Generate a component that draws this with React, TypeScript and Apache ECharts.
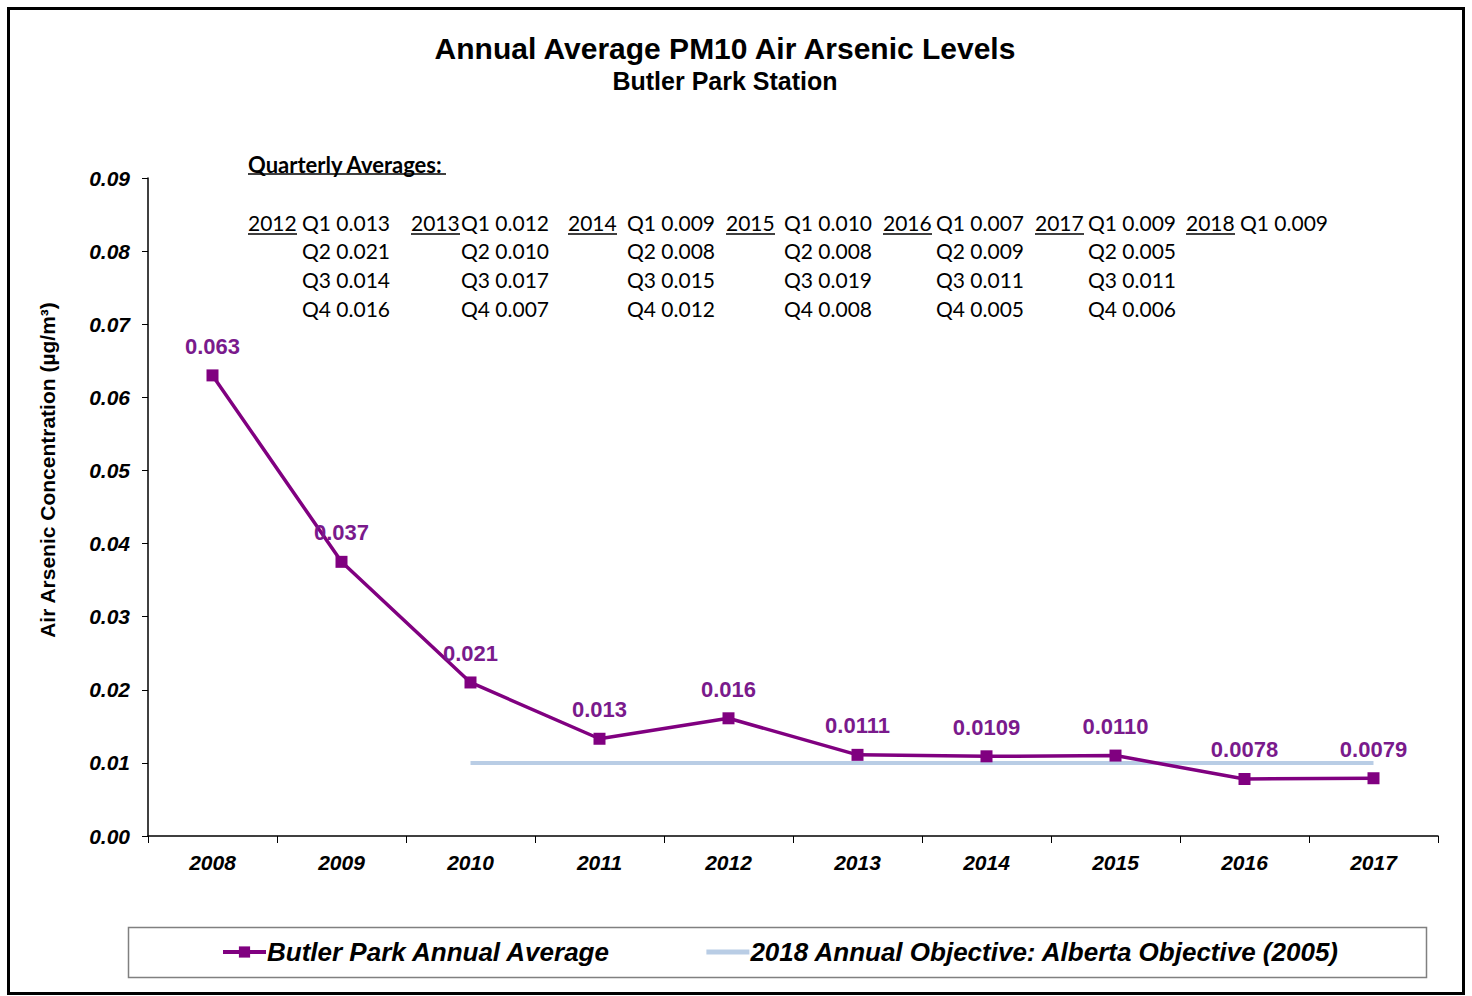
import React, { useEffect, useRef } from "react";
import * as echarts from "echarts";

const years = ["2008", "2009", "2010", "2011", "2012", "2013", "2014", "2015", "2016", "2017"];
const annualAvg = [0.063, 0.0375, 0.021, 0.0133, 0.0161, 0.0111, 0.0109, 0.011, 0.0078, 0.0079];
const annualLabels = ["0.063", "0.037", "0.021", "0.013", "0.016", "0.0111", "0.0109", "0.0110", "0.0078", "0.0079"];
const objective = [null, null, 0.01, 0.01, 0.01, 0.01, 0.01, 0.01, 0.01, 0.01];

const seriesNames = ["Butler Park Annual Average", "2018 Annual Objective: Alberta Objective (2005)"];
const titleText = "Annual Average PM10 Air Arsenic Levels";
const subtitleText = "Butler Park Station";
const yAxisName = "Air Arsenic Concentration (µg/m³)";

const quarterHeading = "Quarterly Averages:";
const quarterYears = ["2012", "2013", "2014", "2015", "2016", "2017", "2018"];
const quarterNames = ["Q1", "Q2", "Q3", "Q4"];
const quarterValues = [
  ["0.013", "0.021", "0.014", "0.016"],
  ["0.012", "0.010", "0.017", "0.007"],
  ["0.009", "0.008", "0.015", "0.012"],
  ["0.010", "0.008", "0.019", "0.008"],
  ["0.007", "0.009", "0.011", "0.005"],
  ["0.009", "0.005", "0.011", "0.006"],
  ["0.009"],
];

// layout only
const yearColX = [248, 411, 568, 726, 883, 1035, 1186];
const qColX = [302, 461, 627, 784, 936, 1088, 1240];
const rowY = [222, 250, 279, 308];

const PURPLE = "#800080";
const LABEL_PURPLE = "#7a1a8c";
const OBJ_BLUE = "#b9cde5";
const AX_FONT = "'Liberation Sans', Arial, sans-serif";
const Q_FONT = "Lato, 'Open Sans', sans-serif";

export default function App() {
  const ref = useRef<HTMLDivElement>(null);
  useEffect(() => {
    if (!ref.current) return;
    const chart = echarts.init(ref.current, null, { renderer: "svg" });

    const graphics: any[] = [
      {
        type: "rect",
        shape: { x: 8.5, y: 8.5, width: 1455, height: 985 },
        style: { fill: "none", stroke: "#000", lineWidth: 3 },
        silent: true,
      },
      {
        type: "text",
        x: 725,
        y: 48,
        style: { text: titleText, font: `bold 30px ${AX_FONT}`, fill: "#000", textAlign: "center", textVerticalAlign: "middle" },
      },
      {
        type: "text",
        x: 725,
        y: 81,
        style: { text: subtitleText, font: `bold 25px ${AX_FONT}`, fill: "#000", textAlign: "center", textVerticalAlign: "middle" },
      },
      {
        type: "text",
        x: 248,
        y: 164,
        style: { text: quarterHeading, font: `bold 22px ${Q_FONT}`, fill: "#000", textAlign: "left", textVerticalAlign: "middle" },
      },
      {
        type: "line",
        shape: { x1: 248, y1: 174, x2: 446, y2: 174 },
        style: { stroke: "#000", lineWidth: 1.5 },
      },
      {
        type: "rect",
        shape: { x: 128.5, y: 927.5, width: 1298, height: 50 },
        style: { fill: "none", stroke: "#808080", lineWidth: 1.5 },
        silent: true,
      },
    ];

    quarterYears.forEach((yr, i) => {
      graphics.push({
        type: "text",
        x: yearColX[i],
        y: rowY[0],
        style: { text: yr, font: `21px ${Q_FONT}`, fill: "#000", textAlign: "left", textVerticalAlign: "middle" },
      });
      graphics.push({
        type: "line",
        shape: { x1: yearColX[i], y1: 234, x2: yearColX[i] + 49, y2: 234 },
        style: { stroke: "#000", lineWidth: 1.5 },
      });
      quarterValues[i].forEach((v, j) => {
        graphics.push({
          type: "text",
          x: qColX[i],
          y: rowY[j],
          style: {
            text: `${quarterNames[j]} ${v}`,
            font: `21px ${Q_FONT}`,
            fill: "#000",
            textAlign: "left",
            textVerticalAlign: "middle",
          },
        });
      });
    });

    chart.setOption({
      animation: false,
      backgroundColor: "#fff",
      grid: { left: 148, top: 178, width: 1290, height: 658, containLabel: false },
      legend: {
        left: 221,
        top: 939,
        padding: 0,
        itemWidth: 43,
        itemHeight: 14,
        itemGap: 93,
        textStyle: { fontFamily: AX_FONT, fontSize: 26, fontWeight: "bold", fontStyle: "italic", color: "#000", padding: [0, 0, 0, -4] },
        data: [
          { name: seriesNames[0], lineStyle: { width: 4 } },
          { name: seriesNames[1], itemStyle: { opacity: 0 }, lineStyle: { width: 5 } },
        ],
      },
      xAxis: {
        type: "category",
        data: years,
        boundaryGap: true,
        axisLine: { lineStyle: { color: "#000", width: 1.5 } },
        axisTick: { show: true, inside: false, length: 7, interval: 0, lineStyle: { color: "#000" } },
        axisLabel: {
          margin: 16,
          fontFamily: AX_FONT,
          fontSize: 21,
          fontWeight: "bold",
          fontStyle: "italic",
          color: "#000",
          interval: 0,
        },
        splitLine: { show: false },
      },
      yAxis: {
        type: "value",
        min: 0,
        max: 0.09,
        interval: 0.01,
        name: yAxisName,
        nameLocation: "middle",
        nameGap: 90,
        nameTextStyle: { fontFamily: AX_FONT, fontSize: 21, fontWeight: "bold", color: "#000", padding: [0, 0, 0, 74] },
        axisLine: { show: true, lineStyle: { color: "#000", width: 1.5 } },
        axisTick: { show: true, inside: false, length: 6, lineStyle: { color: "#000" } },
        axisLabel: {
          margin: 18,
          fontFamily: AX_FONT,
          fontSize: 21,
          fontWeight: "bold",
          fontStyle: "italic",
          color: "#000",
          formatter: (v: number) => v.toFixed(2),
        },
        splitLine: { show: false },
      },
      series: [
        {
          name: seriesNames[0],
          type: "line",
          data: annualAvg,
          z: 5,
          symbol: "rect",
          symbolSize: 12,
          lineStyle: { color: PURPLE, width: 3.5 },
          itemStyle: { color: PURPLE },
          label: {
            show: true,
            position: "top",
            distance: 12,
            formatter: (p: any) => annualLabels[p.dataIndex],
            fontFamily: AX_FONT,
            fontSize: 22,
            fontWeight: "bold",
            color: LABEL_PURPLE,
          },
        },
        {
          name: seriesNames[1],
          type: "line",
          data: objective,
          z: 3,
          symbol: "none",
          lineStyle: { color: OBJ_BLUE, width: 4 },
          itemStyle: { color: OBJ_BLUE },
        },
      ],
      graphic: graphics,
    });

    return () => chart.dispose();
  }, []);

  return <div ref={ref} style={{ position: "absolute", left: 0, top: 0, width: 1472, height: 996 }} />;
}
